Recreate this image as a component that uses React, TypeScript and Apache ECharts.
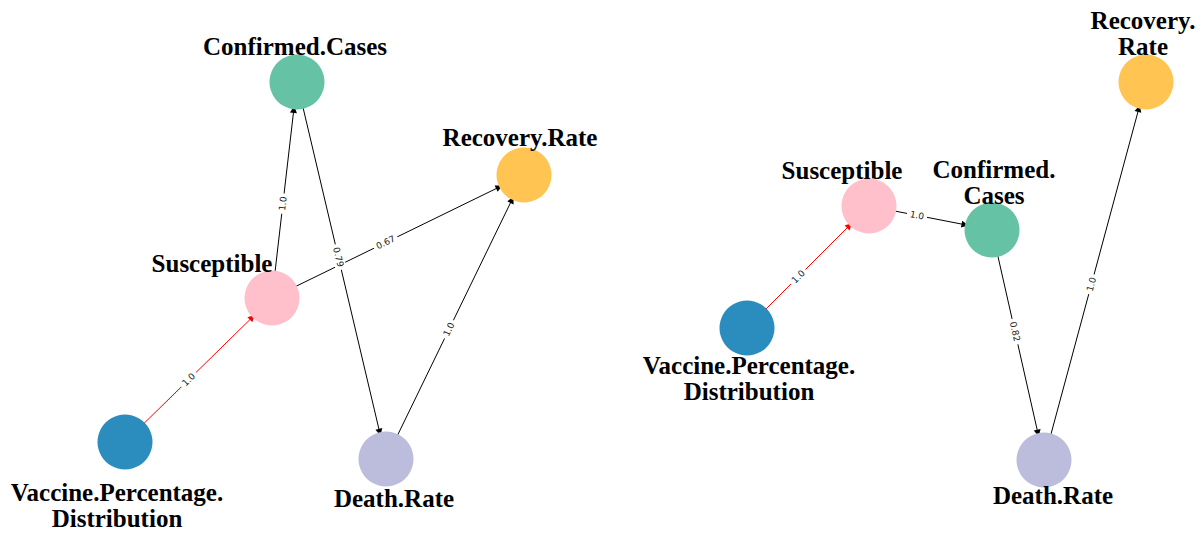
import React, { useEffect, useRef } from "react";
import * as echarts from "echarts";

// ---- Data ----
const nodeNames = [
  "Confirmed.Cases",
  "Recovery.Rate",
  "Susceptible",
  "Vaccine.Percentage.Distribution",
  "Death.Rate",
];
const nodeColors = ["#66c2a5", "#ffc451", "#ffc0cb", "#2b8cbe", "#bcbddc"];

// Left panel layout positions (panel units, y downward)
const leftX = [297, 524, 272, 125, 386];
const leftY = [82, 175, 298, 442, 459];
const leftLabels = [
  "Confirmed.Cases",
  "Recovery.Rate",
  "Susceptible",
  "Vaccine.Percentage.\nDistribution",
  "Death.Rate",
];
const leftSources = ["Vaccine.Percentage.Distribution", "Susceptible", "Susceptible", "Confirmed.Cases", "Death.Rate"];
const leftTargets = ["Susceptible", "Confirmed.Cases", "Recovery.Rate", "Death.Rate", "Recovery.Rate"];
const leftWeights = [1.0, 1.0, 0.67, 0.79, 1.0];

// Right panel layout positions
const rightX = [390, 544, 267, 145, 442];
const rightY = [230, 82, 206, 328, 460];
const rightLabels = [
  "Confirmed.\nCases",
  "Recovery.\nRate",
  "Susceptible",
  "Vaccine.Percentage.\nDistribution",
  "Death.Rate",
];
const rightSources = ["Vaccine.Percentage.Distribution", "Susceptible", "Confirmed.Cases", "Death.Rate"];
const rightTargets = ["Susceptible", "Confirmed.Cases", "Death.Rate", "Recovery.Rate"];
const rightWeights = [1.0, 1.0, 0.82, 1.0];

// ---- Styling (label offsets relative to node centres) ----
const leftLabelOffsets: number[][] = [
  [-2, -36],
  [-4, -38],
  [-60, -35],
  [-8, 63],
  [8, 39],
];
const rightLabelOffsets: number[][] = [
  [2, -48],
  [-3, -49],
  [-27, -36],
  [2, 50],
  [9, 35],
];

const fmtWeight = (w: number) => (Number.isInteger(w) ? w.toFixed(1) : String(w));

function buildSeries(
  xs: number[],
  ys: number[],
  labels: string[],
  offsets: number[][],
  sources: string[],
  targets: string[],
  weights: number[],
  idx: number
) {
  return {
    type: "graph",
    coordinateSystem: "cartesian2d",
    xAxisIndex: idx,
    yAxisIndex: idx,
    layout: "none",
    symbol: "circle",
    symbolSize: 55,
    edgeSymbol: ["none", "triangle"],
    edgeSymbolSize: [0, 7],
    silent: true,
    data: nodeNames.map((n, i) => ({
      name: n,
      value: [xs[i], ys[i]],
      itemStyle: { color: nodeColors[i] },
      label: {
        show: true,
        formatter: labels[i],
        position: "inside",
        offset: offsets[i],
        align: "center",
        verticalAlign: "middle",
        fontFamily: "Liberation Serif",
        fontWeight: "bold",
        fontSize: 25,
        lineHeight: 26,
        color: "#000",
      },
    })),
    links: sources.map((s, i) => ({
      source: s,
      target: targets[i],
      value: weights[i],
      lineStyle: {
        color: s === "Vaccine.Percentage.Distribution" ? "#ff0000" : "#000000",
        width: 1,
        opacity: 1,
        curveness: 0,
      },
      label: {
        show: true,
        formatter: fmtWeight(weights[i]),
        position: "insideMiddle",
        fontFamily: "DejaVu Sans",
        fontSize: 9,
        color: "#222",
        backgroundColor: "#fff",
        padding: [1, 3],
        borderRadius: 3,
        distance: 0,
      },
    })),
    z: 2,
  };
}

export default function App() {
  const ref = useRef<HTMLDivElement>(null);
  useEffect(() => {
    if (!ref.current) return;
    const chart = echarts.init(ref.current, undefined, { renderer: "svg" });
    const axisX = (i: number) => ({
      type: "value",
      gridIndex: i,
      min: 0,
      max: 601,
      show: false,
    });
    const axisY = (i: number) => ({
      type: "value",
      gridIndex: i,
      min: 0,
      max: 533,
      inverse: true,
      show: false,
    });
    chart.setOption({
      animation: false,
      backgroundColor: "#ffffff",
      grid: [
        { left: 0, top: 0, width: 601, height: 533 },
        { left: 602, top: 0, width: 601, height: 533 },
      ],
      xAxis: [axisX(0), axisX(1)],
      yAxis: [axisY(0), axisY(1)],
      series: [
        buildSeries(leftX, leftY, leftLabels, leftLabelOffsets, leftSources, leftTargets, leftWeights, 0),
        buildSeries(rightX, rightY, rightLabels, rightLabelOffsets, rightSources, rightTargets, rightWeights, 1),
      ],
    });
    return () => chart.dispose();
  }, []);
  return (
    <div
      ref={ref}
      style={{ position: "absolute", left: 0, top: 0, width: 1203, height: 533 }}
    />
  );
}
